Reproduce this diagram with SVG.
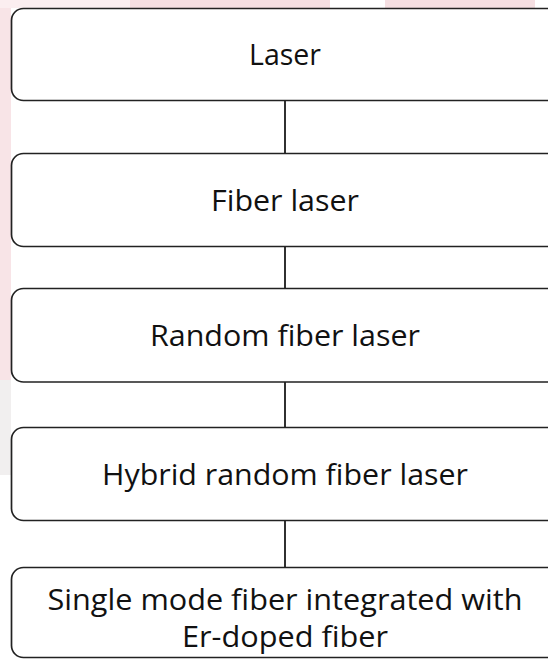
<svg xmlns="http://www.w3.org/2000/svg" width="548" height="659" viewBox="0 0 548 659">
  <style>
    .box { fill: #ffffff; stroke: #222222; stroke-width: 1.7; }
    .link { stroke: #1a1a1a; stroke-width: 1.8; fill: none; }
    .label { font-family: "Open Sans", "Noto Sans", "Liberation Sans", sans-serif; font-size: 29px; fill: #111111; text-anchor: middle; }
  </style>

  <!-- page background with faint watermark tint at the margins -->
  <rect x="0" y="0" width="548" height="659" fill="#ffffff"/>
  <g id="watermark">
    <rect x="0" y="0" width="11" height="380" fill="#f8e4e7"/>
    <rect x="0" y="380" width="11" height="95" fill="#f1efef"/>
    <rect x="0" y="0" width="130" height="8" fill="#fbeef0"/>
    <rect x="130" y="0" width="200" height="8" fill="#f5dfe2"/>
    <rect x="385" y="0" width="150" height="8" fill="#f5dfe2"/>
  </g>

  <!-- connectors -->
  <g id="connectors">
    <line class="link" x1="285" y1="100.5" x2="285" y2="153.5"/>
    <line class="link" x1="285" y1="246.5" x2="285" y2="288.5"/>
    <line class="link" x1="285" y1="382" x2="285" y2="427.5"/>
    <line class="link" x1="285" y1="520.5" x2="285" y2="567.5"/>
  </g>

  <g id="laser">
    <rect class="box" x="11.5" y="8.5" width="548" height="92" rx="12"/>
    <text class="label" x="285" y="65" textLength="72" lengthAdjust="spacingAndGlyphs">Laser</text>
  </g>

  <g id="fiber-laser">
    <rect class="box" x="11.5" y="153.5" width="548" height="93" rx="12"/>
    <text class="label" x="285" y="211" textLength="148" lengthAdjust="spacingAndGlyphs">Fiber laser</text>
  </g>

  <g id="random-fiber-laser">
    <rect class="box" x="11.5" y="288.5" width="548" height="93.5" rx="12"/>
    <text class="label" x="285" y="345.5" textLength="270" lengthAdjust="spacingAndGlyphs">Random fiber laser</text>
  </g>

  <g id="hybrid-random-fiber-laser">
    <rect class="box" x="11.5" y="427.5" width="548" height="93" rx="12"/>
    <text class="label" x="285" y="484.5" textLength="366" lengthAdjust="spacingAndGlyphs">Hybrid random fiber laser</text>
  </g>

  <g id="smf-edf">
    <rect class="box" x="11.5" y="567.5" width="548" height="90" rx="12"/>
    <text class="label" x="285" y="609.5" textLength="475" lengthAdjust="spacingAndGlyphs">Single mode fiber integrated with</text>
    <text class="label" x="285" y="646.5" textLength="206" lengthAdjust="spacingAndGlyphs">Er-doped fiber</text>
  </g>
</svg>
